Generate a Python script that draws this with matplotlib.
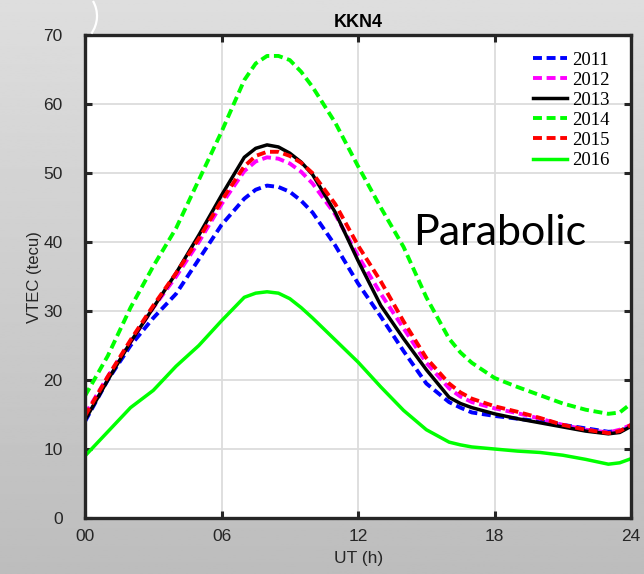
import numpy as np
import matplotlib
matplotlib.use('Agg')
import matplotlib.pyplot as plt
from matplotlib.patches import Arc

# UT hours and VTEC (tecu) for station KKN4
ut = [0, 1, 2, 3, 4, 5, 6, 7, 7.5, 8, 8.5, 9, 9.5, 10, 11, 12, 13, 14, 15, 16, 16.5, 17, 18,
      19, 20, 21, 22, 23, 23.5, 24]

vtec_2011 = [14.0, 20.0, 25.0, 29.0, 32.5, 37.5, 42.5, 46.3, 47.6, 48.2, 48.0, 47.3, 46.0, 44.3, 39.5,
             34.0, 29.2, 24.2, 19.5, 16.8, 16.0, 15.3, 14.8, 14.4, 14.0, 13.5, 13.0, 12.5, 12.6, 13.3]
vtec_2012 = [15.0, 20.5, 25.5, 30.5, 35.0, 40.0, 45.5, 50.3, 51.7, 52.3, 52.1, 51.4, 50.2, 48.5, 44.0,
             38.0, 32.5, 27.5, 22.5, 18.8, 17.6, 16.8, 15.9, 15.2, 14.4, 13.5, 12.8, 12.4, 12.8, 13.5]
vtec_2013 = [14.2, 20.0, 25.5, 30.5, 35.5, 41.0, 46.8, 52.3, 53.6, 54.1, 53.8, 52.9, 51.6, 49.8, 44.3,
             37.3, 30.8, 26.0, 21.5, 17.5, 16.6, 16.0, 15.1, 14.4, 13.8, 13.2, 12.6, 12.2, 12.4, 13.3]
vtec_2014 = [17.7, 23.5, 30.5, 36.5, 42.0, 49.0, 56.0, 63.5, 65.9, 67.0, 67.0, 66.4, 64.7, 62.5, 57.3,
             51.0, 45.0, 39.3, 32.0, 26.0, 24.0, 22.5, 20.3, 19.0, 17.8, 16.6, 15.7, 15.1, 15.3, 16.6]
vtec_2015 = [14.8, 20.5, 25.8, 30.8, 35.5, 40.5, 46.0, 51.0, 52.5, 53.1, 53.1, 52.5, 51.5, 50.0, 45.5,
             39.5, 34.3, 28.5, 23.2, 19.5, 18.2, 17.3, 16.2, 15.4, 14.5, 13.5, 12.8, 12.3, 12.6, 13.5]
vtec_2016 = [9.0, 12.5, 16.0, 18.5, 22.0, 25.0, 28.6, 32.0, 32.6, 32.8, 32.6, 31.8, 30.5, 29.0, 25.8,
             22.6, 19.0, 15.6, 12.8, 11.0, 10.6, 10.3, 10.0, 9.7, 9.5, 9.1, 8.5, 7.8, 8.0, 8.6]

years = ['2011', '2012', '2013', '2014', '2015', '2016']
series = [vtec_2011, vtec_2012, vtec_2013, vtec_2014, vtec_2015, vtec_2016]
colors = ['#0000ff', '#ff00ff', '#000000', '#00ff00', '#ff0000', '#00ff00']
dashed = [True, True, False, True, True, False]

x_ticks = [0, 6, 12, 18, 24]
x_tick_labels = ['00', '06', '12', '18', '24']
y_ticks = [0, 10, 20, 30, 40, 50, 60, 70]

plt.rcParams['font.family'] = ['Liberation Sans', 'DejaVu Sans']
dark = '#262626'

fig = plt.figure(figsize=(6.44, 5.74), dpi=100)

# grey gradient background
bg = fig.add_axes([0, 0, 1, 1], zorder=-10)
grad = np.linspace(0.87, 0.74, 256).reshape(-1, 1)
bg.imshow(grad, cmap='gray', vmin=0, vmax=1, aspect='auto', extent=[0, 1, 0, 1])
bg.set_xlim(0, 1)
bg.set_ylim(0, 1)
bg.axis('off')

# white decorative arc at the top left
fig.add_artist(Arc((67 / 644, 1 - 16 / 574), 60 / 644, 60 / 574, theta1=-39, theta2=33,
                   color='white', lw=1.6, transform=fig.transFigure))

ax = fig.add_axes([0.132, 0.0976, 0.848, 0.841])
ax.set_facecolor('white')

for year, vals, c, d in zip(years, series, colors, dashed):
    if d:
        ax.plot(ut, vals, color=c, lw=2.8, dashes=(2.3, 1.2), label=year)
    else:
        ax.plot(ut, vals, color=c, lw=2.5, label=year)

ax.set_xlim(0, 24)
ax.set_ylim(0, 70)
ax.set_xticks(x_ticks)
ax.set_xticklabels(x_tick_labels)
ax.set_yticks(y_ticks)
ax.grid(True, color='#dcdcdc', lw=1.3)
ax.set_axisbelow(True)

for s in ax.spines.values():
    s.set_linewidth(2.4)
    s.set_color(dark)
ax.tick_params(direction='in', length=5, width=2.2, color=dark, top=True, right=True,
               labelsize=12.5, labelcolor=dark)
ax.tick_params(axis='y', pad=16)
ax.tick_params(axis='x', pad=8)

ax.set_title('KKN4', fontsize=13, fontweight='bold', pad=6)
ax.set_xlabel('UT (h)', fontsize=12.5, color=dark, labelpad=5)
ax.set_ylabel('VTEC (tecu)', fontsize=12, color=dark, labelpad=1)

ax.text(14.4, 39.6, 'Parabolic', fontsize=31, family=['Lato', 'DejaVu Sans'], va='baseline', ha='left')

leg = ax.legend(loc='upper right', frameon=False, prop={'family': 'Liberation Serif', 'size': 13.5},
                handlelength=1.8, handletextpad=0.3, labelspacing=0.16,
                borderaxespad=0.0, bbox_to_anchor=(0.975, 0.982))

fig.savefig('out.png', dpi=100)
